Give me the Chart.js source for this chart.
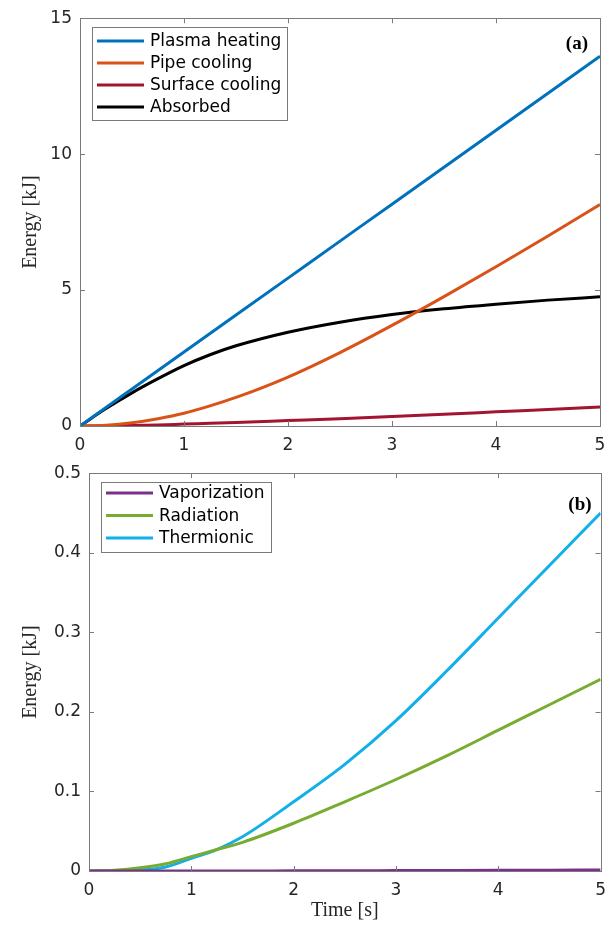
<!DOCTYPE html>
<html>
<head>
<meta charset="utf-8">
<script src="https://cdn.jsdelivr.net/npm/chart.js@4"></script>
<style>
  html, body { margin: 0; padding: 0; background: #ffffff; }
  #wrap { position: relative; width: 615px; height: 926px; overflow: hidden; }
  canvas { position: absolute; left: 0; }
</style>
</head>
<body>
<div id="wrap">
  <canvas id="c1" width="615" height="460" style="top:0px"></canvas>
  <canvas id="c2" width="615" height="471" style="top:455px"></canvas>
</div>
<script>
// ---------- data ----------
const time = [0, 0.25, 0.5, 0.75, 1, 1.25, 1.5, 2, 2.5, 3, 3.5, 4, 4.5, 5];

// panel (a) [kJ]
const plasmaHeating  = [0, 0.68, 1.36, 2.04, 2.72, 3.40, 4.08, 5.44, 6.80, 8.16, 9.52, 10.88, 12.24, 13.60];
const pipeCooling    = [0, 0.03, 0.12, 0.27, 0.47, 0.74, 1.05, 1.80, 2.70, 3.70, 4.76, 5.86, 6.99, 8.15];
const surfaceCooling = [0, 0.005, 0.02, 0.04, 0.07, 0.10, 0.13, 0.20, 0.27, 0.35, 0.43, 0.52, 0.61, 0.70];
const absorbed       = [0, 0.64, 1.22, 1.74, 2.22, 2.62, 2.95, 3.45, 3.82, 4.10, 4.31, 4.48, 4.63, 4.75];

// panel (b) [kJ]
const vaporization   = [0, 0, 0, 0, 0, 0, 0, 0.0002, 0.0003, 0.0005, 0.0007, 0.0009, 0.0010, 0.0012];
const radiation      = [0, 0.001, 0.004, 0.009, 0.018, 0.027, 0.036, 0.060, 0.087, 0.115, 0.145, 0.177, 0.209, 0.241];
const thermionic     = [0, 0, 0.001, 0.005, 0.016, 0.027, 0.043, 0.087, 0.134, 0.189, 0.252, 0.318, 0.384, 0.450];

const xTicks = [0, 1, 2, 3, 4, 5];
const yTicksA = [0, 5, 10, 15];
const yTicksB = [0, 0.1, 0.2, 0.3, 0.4, 0.5];

// ---------- helpers ----------
const pts = (ys) => time.map((t, i) => ({ x: t, y: ys[i] }));
const TICK_FONT = { family: 'DejaVu Sans', size: 17 };
const TITLE_FONT = { family: 'Liberation Serif', size: 20 };
const TEXT = '#262626';
const AXIS = '#7a7a7a';
const LW = 3;

function ds(label, data, color) {
  return {
    label, data: pts(data), borderColor: color, backgroundColor: color,
    borderWidth: LW, pointRadius: 0, fill: false,
    cubicInterpolationMode: 'monotone'
  };
}

// box, inward ticks, legend, panel label
function framePlugin(opts) {
  return {
    id: 'frame' + opts.tag,
    afterDatasetsDraw(chart) {
      const { ctx, chartArea: a, scales } = chart;
      ctx.save();
      ctx.strokeStyle = AXIS;
      ctx.lineWidth = 1;
      ctx.strokeRect(Math.round(a.left) + 0.5, Math.round(a.top) + 0.5,
                     Math.round(a.right - a.left), Math.round(a.bottom - a.top));
      const tl = 5;
      ctx.beginPath();
      scales.x.ticks.forEach(t => {
        const px = Math.round(scales.x.getPixelForValue(t.value)) + 0.5;
        ctx.moveTo(px, a.bottom); ctx.lineTo(px, a.bottom - tl);
        ctx.moveTo(px, a.top); ctx.lineTo(px, a.top + tl);
      });
      scales.y.ticks.forEach(t => {
        const py = Math.round(scales.y.getPixelForValue(t.value)) + 0.5;
        ctx.moveTo(a.left, py); ctx.lineTo(a.left + tl, py);
        ctx.moveTo(a.right, py); ctx.lineTo(a.right - tl, py);
      });
      ctx.stroke();

      // legend
      const L = opts.legend;
      ctx.fillStyle = '#ffffff';
      ctx.fillRect(L.x, L.y, L.w, L.h);
      ctx.strokeStyle = AXIS;
      ctx.strokeRect(L.x + 0.5, L.y + 0.5, L.w, L.h);
      ctx.font = '17px "DejaVu Sans"';
      ctx.textBaseline = 'middle';
      ctx.textAlign = 'left';
      chart.data.datasets.forEach((d, i) => {
        const y = L.y + L.first + i * L.step;
        ctx.strokeStyle = d.borderColor;
        ctx.lineWidth = LW;
        ctx.beginPath();
        ctx.moveTo(L.x + 5, y); ctx.lineTo(L.x + 52, y);
        ctx.stroke();
        ctx.fillStyle = '#000000';
        ctx.fillText(d.label, L.x + 58, y + 1);
      });

      // panel label
      ctx.font = 'bold 19px "Liberation Serif"';
      ctx.fillStyle = '#000000';
      ctx.textAlign = 'right';
      ctx.textBaseline = 'middle';
      ctx.fillText(opts.panel, a.right - opts.panelDx, a.top + opts.panelDy);
      ctx.restore();
    }
  };
}

function makeChart(id, datasets, cfg) {
  return new Chart(document.getElementById(id), {
    type: 'line',
    data: { datasets },
    options: {
      responsive: false,
      animation: false,
      layout: { padding: cfg.padding },
      plugins: { legend: { display: false }, tooltip: { enabled: false } },
      scales: {
        x: {
          type: 'linear', min: 0, max: 5,
          afterBuildTicks: (s) => { s.ticks = xTicks.map(v => ({ value: v })); },
          afterFit: (s) => { s.height = cfg.xHeight; },
          grid: { display: false, drawTicks: false },
          border: { display: false },
          ticks: { font: TICK_FONT, color: TEXT, padding: 9, maxRotation: 0 },
          title: cfg.xTitle ? { display: true, text: cfg.xTitle, font: TITLE_FONT, color: TEXT, padding: { top: 0, bottom: 3 } } : { display: false }
        },
        y: {
          type: 'linear', min: cfg.yMin, max: cfg.yMax,
          afterBuildTicks: (s) => { s.ticks = cfg.yTicks.map(v => ({ value: v })); },
          afterFit: (s) => { s.width = cfg.yWidth; },
          grid: { display: false, drawTicks: false },
          border: { display: false },
          ticks: { font: TICK_FONT, color: TEXT, padding: 8 },
          title: { display: true, text: 'Energy [kJ]', font: TITLE_FONT, color: TEXT, padding: { top: 19, bottom: 0 } }
        }
      }
    },
    plugins: [framePlugin(cfg.frame)]
  });
}

makeChart('c1', [
  ds('Plasma heating', plasmaHeating, '#0072BD'),
  ds('Pipe cooling', pipeCooling, '#D95319'),
  ds('Surface cooling', surfaceCooling, '#A2142F'),
  ds('Absorbed', absorbed, '#000000')
], {
  padding: { top: 15, right: 15, left: 0, bottom: 0 },
  xHeight: 34, yWidth: 80, yMin: 0, yMax: 15, yTicks: yTicksA,
  frame: { tag: 'a', panel: '(a)', panelDx: 12, panelDy: 26,
           legend: { x: 92, y: 27, w: 195, h: 93, first: 14, step: 22 } }
});

makeChart('c2', [
  ds('Vaporization', vaporization, '#7E2F8E'),
  ds('Radiation', radiation, '#77AC30'),
  ds('Thermionic', thermionic, '#12AFE8')
], {
  padding: { top: 13, right: 11, left: 0, bottom: 0 },
  xHeight: 55, yWidth: 89, yMin: 0, yMax: 0.5, yTicks: yTicksB, xTitle: 'Time [s]',
  frame: { tag: 'b', panel: '(b)', panelDx: 9, panelDy: 32,
           legend: { x: 101, y: 27, w: 170, h: 70, first: 11, step: 22.5 } }
});
</script>
</body>
</html>
